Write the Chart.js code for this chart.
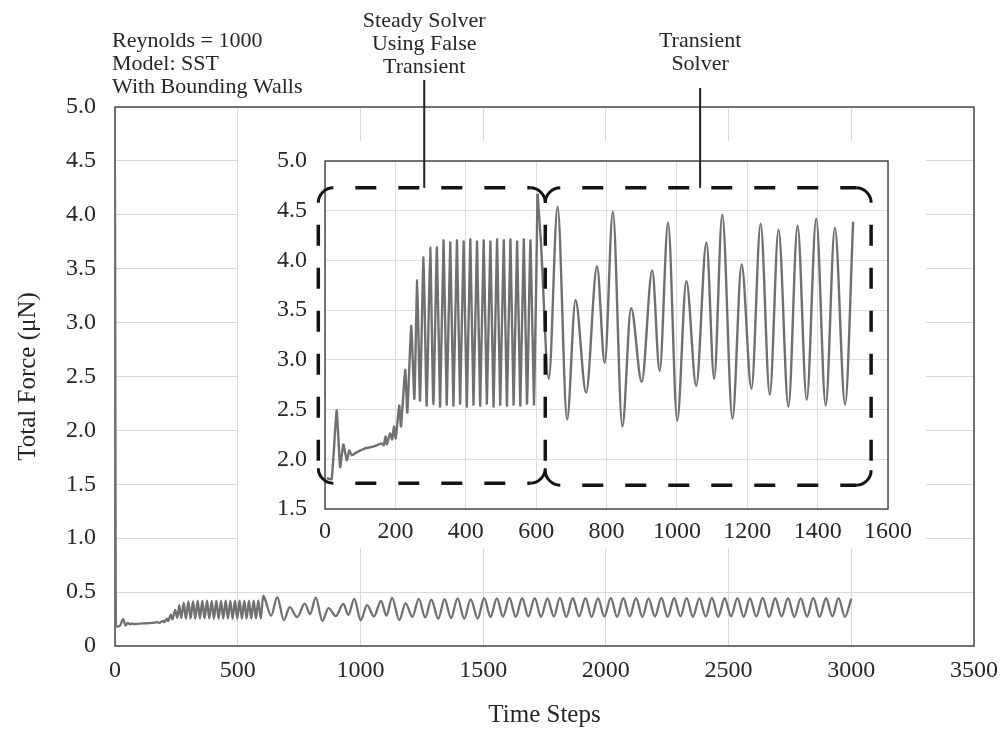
<!DOCTYPE html>
<html><head><meta charset="utf-8">
<script src="https://cdn.jsdelivr.net/npm/chart.js@4.4.1/dist/chart.umd.min.js"></script>
<style>
html,body{margin:0;padding:0;background:#fff;}
#wrap{position:relative;width:1005px;height:729px;overflow:hidden;}
canvas{position:absolute;left:0;top:0;}
</style></head><body>
<div id="wrap"><canvas id="main" width="1005" height="729"></canvas><canvas id="inset" width="1005" height="729"></canvas></div>
<script>
// ---------------- data ----------------
const mainSteps = [0,4,19,33,43,52,62,69,76,100,130,161,172,180,196,201,211,216,228,234,245,254,262,270,280,289,299,308,318,327,337,346,356,365,375,384,394,403,413,422,432,441,451,460,470,479,489,498,508,517,527,536,546,555,565,574,584,594,604,613,636,661,688,712,742,773,795,818,845,870,900,930,951,975,1001,1027,1055,1084,1106,1129,1158,1184,1212,1238,1264,1289,1317,1343,1369,1396,1423,1449,1478,1504,1530,1556,1581,1607,1633,1659,1684,1710,1736,1762,1788,1813,1839,1865,1891,1917,1942,1968,1994,2020,2046,2071,2097,2123,2149,2174,2200,2226,2252,2278,2304,2329,2355,2381,2407,2432,2458,2484,2510,2536,2562,2587,2613,2639,2665,2690,2716,2742,2768,2794,2820,2845,2871,2897,2923,2948,2974,3000];
const mainForce = [4.35,0.18,0.185,0.25,0.19,0.215,0.2,0.21,0.204,0.208,0.211,0.216,0.222,0.215,0.233,0.221,0.254,0.233,0.29,0.247,0.334,0.261,0.38,0.259,0.403,0.254,0.413,0.255,0.413,0.253,0.42,0.255,0.418,0.254,0.42,0.256,0.419,0.253,0.421,0.255,0.419,0.254,0.42,0.256,0.419,0.253,0.421,0.255,0.42,0.254,0.421,0.255,0.419,0.254,0.421,0.256,0.42,0.255,0.467,0.422,0.281,0.454,0.24,0.36,0.267,0.394,0.297,0.449,0.233,0.352,0.278,0.39,0.289,0.438,0.239,0.379,0.274,0.418,0.281,0.446,0.241,0.396,0.271,0.437,0.265,0.431,0.253,0.435,0.26,0.442,0.254,0.433,0.255,0.444,0.27,0.442,0.273,0.446,0.27,0.443,0.274,0.445,0.271,0.442,0.273,0.446,0.27,0.443,0.274,0.445,0.271,0.442,0.273,0.446,0.27,0.443,0.274,0.445,0.271,0.442,0.273,0.446,0.27,0.443,0.274,0.445,0.271,0.442,0.273,0.446,0.27,0.443,0.274,0.445,0.271,0.442,0.273,0.446,0.27,0.443,0.274,0.445,0.271,0.442,0.273,0.446,0.27,0.443,0.274,0.445,0.271,0.44];

const insetSteadySteps = [5,19,33,43,52,62,69,76,90,114,140,161,167,172,176,185,191,196,201,211,216,228,234,245,254,262,270,280,289,299,308,318,327,337,346,356,365,375,384,394,403,413,422,432,441,451,460,470,479,489,498,508,517,527,536,546,555,565,574,584,594,604];
const insetSteadyForce = [1.81,1.80,2.49,1.92,2.15,1.99,2.09,2.04,2.07,2.11,2.13,2.16,2.14,2.23,2.15,2.26,2.20,2.33,2.21,2.54,2.33,2.90,2.47,3.34,2.61,3.80,2.59,4.03,2.54,4.13,2.55,4.13,2.53,4.20,2.55,4.18,2.54,4.20,2.56,4.19,2.53,4.21,2.55,4.19,2.54,4.20,2.56,4.19,2.53,4.21,2.55,4.20,2.54,4.21,2.55,4.19,2.54,4.21,2.56,4.20,2.55,4.67];
const insetTransientSteps = [604,613,636,661,688,712,742,773,795,818,845,870,900,930,951,975,1001,1027,1055,1084,1106,1129,1158,1184,1212,1238,1264,1289,1317,1343,1369,1396,1423,1449,1478,1501];
const insetTransientForce = [4.67,4.22,2.81,4.54,2.40,3.60,2.67,3.94,2.97,4.49,2.33,3.52,2.78,3.90,2.89,4.38,2.39,3.79,2.74,4.18,2.81,4.46,2.41,3.96,2.71,4.37,2.65,4.31,2.53,4.35,2.60,4.42,2.54,4.33,2.55,4.39];

const mainYTickLabels = ['0','0.5','1.0','1.5','2.0','2.5','3.0','3.5','4.0','4.5','5.0'];
const mainXTickLabels = ['0','500','1000','1500','2000','2500','3000','3500'];
const insetYTickLabels = ['1.5','2.0','2.5','3.0','3.5','4.0','4.5','5.0'];
const insetXTickLabels = ['0','200','400','600','800','1000','1200','1400','1600'];

const noteLines = ['Reynolds = 1000','Model: SST','With Bounding Walls'];
const steadyLabel = ['Steady Solver','Using False','Transient'];
const transientLabel = ['Transient','Solver'];
// annotation regions in inset data units
const steadyBox = {x0:-19, x1:626, y0:4.73, y1:1.76};
const transientBox = {x0:626, x1:1552, y0:4.73, y1:1.74};
const steadyPointerStep = 282;
const transientPointerStep = 1066;

// ---------------- helpers ----------------
const FONT = '"Liberation Serif", "Times New Roman", Times, serif';
const TXT = '#262626';
const LINE = '#707070';
const toXY = (xs, ys) => xs.map((x, i) => ({x: x, y: ys[i]}));

const framePlugin = {
  id: 'frame',
  beforeDatasetsDraw(chart) {
    const {ctx, chartArea: a} = chart;
    ctx.save();
    ctx.strokeStyle = '#4a4a4a';
    ctx.lineWidth = 1.5;
    ctx.strokeRect(a.left, a.top, a.right - a.left, a.bottom - a.top);
    ctx.restore();
  }
};

function line(ctx, x0, y0, x1, y1) { ctx.beginPath(); ctx.moveTo(x0, y0); ctx.lineTo(x1, y1); ctx.stroke(); }
function arc(ctx, cx, cy, r, a0, a1) { ctx.beginPath(); ctx.arc(cx, cy, r, a0, a1); ctx.stroke(); }

function dashedBox(ctx, x0, y0, x1, y1, r, skipLeft) {
  ctx.save();
  ctx.strokeStyle = '#141414';
  ctx.lineWidth = 3.5;
  ctx.setLineDash([21, 22]);
  ctx.lineDashOffset = 21;
  line(ctx, x0 + r, y0, x1 - r, y0);
  line(ctx, x1, y0 + r, x1, y1 - r);
  line(ctx, x0 + r, y1, x1 - r, y1);
  if (!skipLeft) line(ctx, x0, y0 + r, x0, y1 - r);
  ctx.setLineDash([]);
  ctx.lineWidth = 3;
  arc(ctx, x0 + r, y0 + r, r, Math.PI, 1.5 * Math.PI);
  arc(ctx, x1 - r, y0 + r, r, 1.5 * Math.PI, 2 * Math.PI);
  arc(ctx, x1 - r, y1 - r, r, 0, 0.5 * Math.PI);
  arc(ctx, x0 + r, y1 - r, r, 0.5 * Math.PI, Math.PI);
  ctx.restore();
}

function textLines(ctx, lines, x, y, dy, align) {
  ctx.save();
  ctx.font = '22px ' + FONT;
  ctx.fillStyle = TXT;
  ctx.textAlign = align;
  ctx.textBaseline = 'middle';
  lines.forEach((t, i) => ctx.fillText(t, x, y + i * dy));
  ctx.restore();
}

const insetPlugin = {
  id: 'insetDeco',
  beforeDraw(chart) {
    const ctx = chart.ctx;
    ctx.save();
    ctx.fillStyle = '#ffffff';
    ctx.fillRect(238, 141, 688, 407);
    ctx.restore();
  },
  afterDraw(chart) {
    const ctx = chart.ctx;
    const xs = chart.scales.x, ys = chart.scales.y;
    const bx = b => ({x0: xs.getPixelForValue(b.x0), x1: xs.getPixelForValue(b.x1), y0: ys.getPixelForValue(b.y0), y1: ys.getPixelForValue(b.y1)});
    const L = bx(steadyBox), R = bx(transientBox);
    dashedBox(ctx, L.x0, L.y0, L.x1, L.y1, 15, false);
    dashedBox(ctx, R.x0, R.y0, R.x1, R.y1, 15, true);
    ctx.save();
    ctx.strokeStyle = '#222';
    ctx.lineWidth = 2;
    const sx = xs.getPixelForValue(steadyPointerStep);
    const tx = xs.getPixelForValue(transientPointerStep);
    line(ctx, sx, 80, sx, L.y0);
    line(ctx, tx, 88, tx, R.y0);
    ctx.restore();
    textLines(ctx, steadyLabel, sx, 21, 23.3, 'center');
    textLines(ctx, transientLabel, tx, 41, 23.3, 'center');
    textLines(ctx, noteLines, 112, 41, 23.3, 'left');
  }
};

const noSidePad = s => { s.paddingLeft = 0; s.paddingRight = 0; };

// ---------------- main chart ----------------
new Chart(document.getElementById('main'), {
  type: 'line',
  data: {
    datasets: [{
      data: toXY(mainSteps, mainForce),
      borderColor: LINE,
      borderWidth: 2.3,
      pointRadius: 0,
      cubicInterpolationMode: 'monotone',
      fill: false
    }]
  },
  options: {
    responsive: false,
    animation: false,
    events: [],
    layout: {padding: {left: 9, right: 31, top: 107, bottom: 0}},
    plugins: {legend: {display: false}, tooltip: {enabled: false}},
    scales: {
      x: {
        type: 'linear', min: 0, max: 3500,
        afterFit: s => { s.height = 83; noSidePad(s); },
        afterBuildTicks: s => { s.ticks = mainXTickLabels.map(t => ({value: Number(t)})); },
        ticks: {padding: 10, color: TXT, font: {family: FONT, size: 24},
          callback: (v, i) => mainXTickLabels[i]},
        grid: {color: '#d9d9d9', lineWidth: 1, drawTicks: false},
        border: {display: false},
        title: {display: true, text: 'Time Steps', color: TXT, font: {family: FONT, size: 25, lineHeight: 1.1}, padding: {top: 0, bottom: 0}}
      },
      y: {
        type: 'linear', min: 0, max: 5,
        afterFit: s => { s.width = 106; },
        afterBuildTicks: s => { s.ticks = mainYTickLabels.map(t => ({value: Number(t)})); },
        ticks: {padding: 19, color: TXT, font: {family: FONT, size: 24},
          callback: (v, i) => mainYTickLabels[i]},
        grid: {color: '#d9d9d9', lineWidth: 1, drawTicks: false},
        border: {display: false},
        title: {display: true, text: 'Total Force (μN)', color: TXT, font: {family: FONT, size: 25, lineHeight: 1.2}, padding: {top: 4, bottom: 0}}
      }
    }
  },
  plugins: [framePlugin]
});

// ---------------- inset chart ----------------
new Chart(document.getElementById('inset'), {
  type: 'line',
  data: {
    datasets: [{
      data: toXY(insetSteadySteps, insetSteadyForce),
      borderColor: LINE,
      borderWidth: 2.4,
      pointRadius: 0,
      tension: 0.15,
      fill: false
    }, {
      data: toXY(insetTransientSteps, insetTransientForce),
      borderColor: LINE,
      borderWidth: 2.4,
      pointRadius: 0,
      cubicInterpolationMode: 'monotone',
      fill: false
    }]
  },
  options: {
    responsive: false,
    animation: false,
    events: [],
    layout: {padding: {left: 255, right: 117, top: 161, bottom: 180}},
    plugins: {legend: {display: false}, tooltip: {enabled: false}},
    scales: {
      x: {
        type: 'linear', min: 0, max: 1600,
        afterFit: s => { s.height = 40; noSidePad(s); },
        afterBuildTicks: s => { s.ticks = insetXTickLabels.map(t => ({value: Number(t)})); },
        ticks: {padding: 8, color: TXT, font: {family: FONT, size: 24},
          callback: (v, i) => insetXTickLabels[i]},
        grid: {color: '#dedede', lineWidth: 1, drawTicks: false},
        border: {display: false}
      },
      y: {
        type: 'linear', min: 1.5, max: 5,
        afterFit: s => { s.width = 70; },
        afterBuildTicks: s => { s.ticks = insetYTickLabels.map(t => ({value: Number(t)})); },
        ticks: {padding: 18, color: TXT, font: {family: FONT, size: 24},
          callback: (v, i) => insetYTickLabels[i]},
        grid: {color: '#dedede', lineWidth: 1, drawTicks: false},
        border: {display: false}
      }
    }
  },
  plugins: [insetPlugin, framePlugin]
});
</script>
</body></html>
